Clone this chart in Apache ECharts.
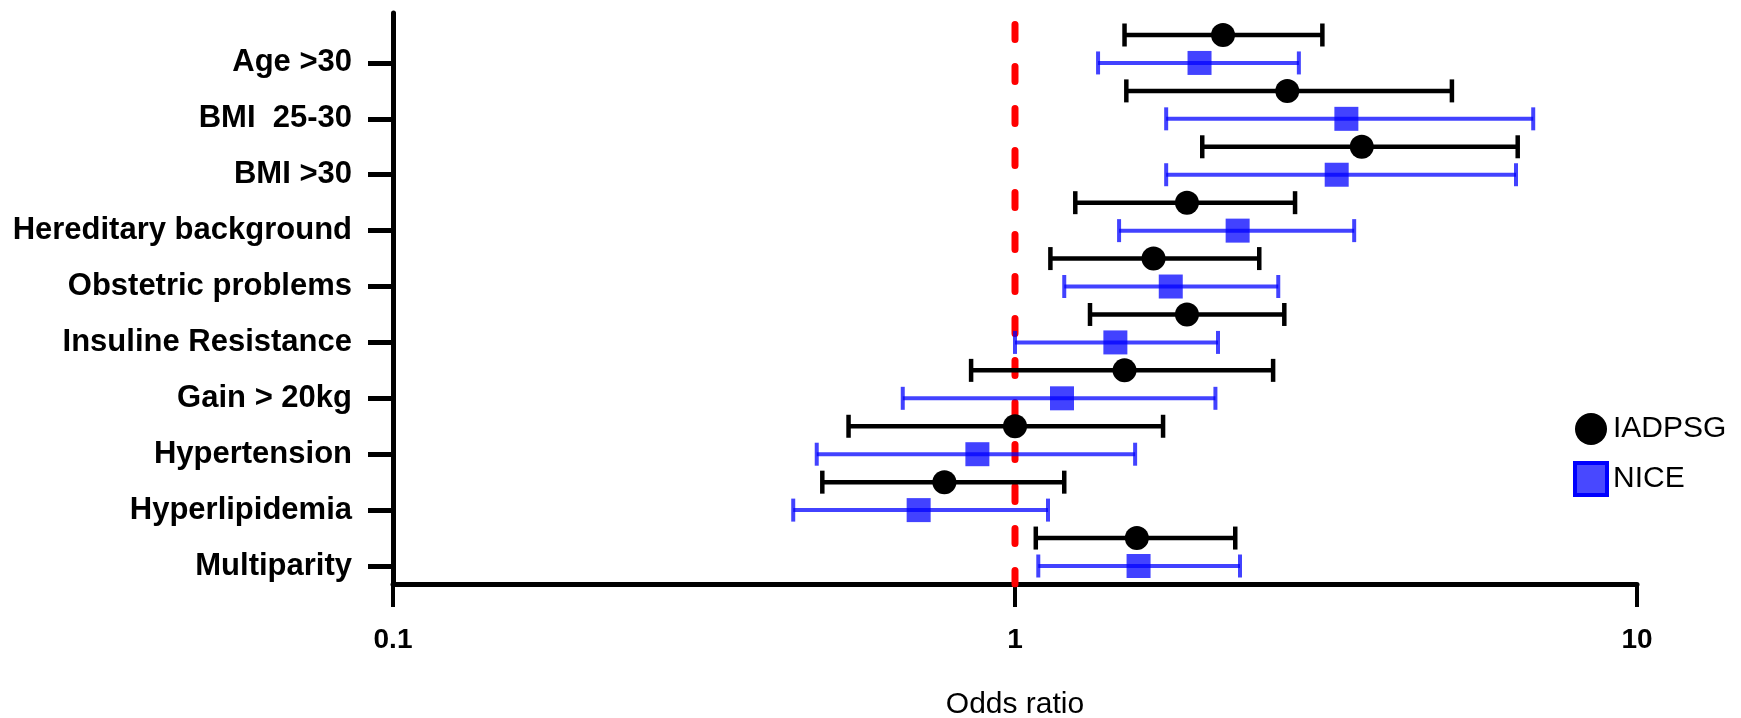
<!DOCTYPE html>
<html>
<head>
<meta charset="utf-8">
<script src="https://cdn.jsdelivr.net/npm/echarts@6/dist/echarts.min.js"></script>
<style>
html,body{margin:0;padding:0;background:#fff;}
#chart{width:1741px;height:718px;}
</style>
</head>
<body>
<div id="chart"></div>
<script>
var categories = ['Age >30','BMI  25-30','BMI >30','Hereditary background','Obstetric problems','Insuline Resistance','Gain > 20kg','Hypertension','Hyperlipidemia','Multiparity'];
var iadOR = [2.16, 2.74, 3.61, 1.89, 1.67, 1.89, 1.50, 1.00, 0.77, 1.57];
var iadLo = [1.50, 1.51, 2.00, 1.25, 1.14, 1.32, 0.85, 0.54, 0.49, 1.08];
var iadHi = [3.12, 5.04, 6.43, 2.82, 2.47, 2.71, 2.60, 1.73, 1.20, 2.26];
var niceOR = [1.98, 3.41, 3.29, 2.28, 1.78, 1.45, 1.19, 0.87, 0.70, 1.58];
var niceLo = [1.36, 1.75, 1.75, 1.47, 1.20, 1.00, 0.66, 0.48, 0.44, 1.09];
var niceHi = [2.86, 6.81, 6.39, 3.51, 2.65, 2.12, 2.10, 1.56, 1.13, 2.30];

var FONT = "'Liberation Sans', Arial, sans-serif";
var BLUE = 'rgba(0,0,255,0.74)';
var yMin = -0.787, yMax = 19.644;

var iadPts = [], nicePts = [], iadBars = [], niceBars = [], tickRows = [];
for (var i = 0; i < categories.length; i++) {
  iadPts.push([iadOR[i], 2 * i]);
  nicePts.push([niceOR[i], 2 * i + 1]);
  iadBars.push([iadLo[i], iadHi[i], 2 * i]);
  niceBars.push([niceLo[i], niceHi[i], 2 * i + 1]);
  tickRows.push(2 * i + 1);
}

function barRenderer(color, lw, capW) {
  return function (params, api) {
    var y = api.value(2);
    var p0 = api.coord([api.value(0), y]);
    var p1 = api.coord([api.value(1), y]);
    var h = 11.5;
    return {
      type: 'group',
      children: [
        {type: 'line', shape: {x1: p0[0], y1: p0[1], x2: p1[0], y2: p1[1]}, style: {stroke: color, lineWidth: lw}},
        {type: 'line', shape: {x1: p0[0], y1: p0[1] - h, x2: p0[0], y2: p0[1] + h}, style: {stroke: color, lineWidth: capW}},
        {type: 'line', shape: {x1: p1[0], y1: p1[1] - h, x2: p1[0], y2: p1[1] + h}, style: {stroke: color, lineWidth: capW}}
      ]
    };
  };
}

var chart = echarts.init(document.getElementById('chart'), null, {renderer: 'canvas'});
chart.setOption({
  animation: false,
  backgroundColor: '#fff',
  grid: {left: 393, right: 104, top: 13, bottom: 134, containLabel: false, outerBoundsMode: 'none'},
  legend: {
    orient: 'vertical',
    left: 1568,
    top: 408,
    itemWidth: 32,
    itemHeight: 32,
    itemGap: 16,
    textStyle: {fontFamily: FONT, fontSize: 30, color: '#000', padding: [0, 0, 0, 1]},
    data: [
      {name: 'IADPSG', icon: 'circle', itemStyle: {color: '#000'}},
      {name: 'NICE', icon: 'rect', itemStyle: {color: 'rgba(40,40,255,0.85)', borderColor: '#0000ff', borderWidth: 4}}
    ]
  },
  xAxis: {
    type: 'log',
    logBase: 10,
    min: 0.1,
    max: 10,
    name: 'Odds ratio',
    nameLocation: 'middle',
    nameGap: 106,
    nameTextStyle: {fontFamily: FONT, fontSize: 30, color: '#000'},
    axisLine: {onZero: false, lineStyle: {color: '#000', width: 5}},
    axisTick: {show: true, inside: false, length: 23, lineStyle: {color: '#000', width: 4}},
    minorTick: {show: false},
    splitLine: {show: false},
    axisLabel: {
      fontFamily: FONT, fontSize: 28, fontWeight: 'bold', color: '#000', margin: 42,
      formatter: function (v) { return String(+v.toPrecision(3)); }
    }
  },
  yAxis: {
    type: 'value',
    inverse: true,
    min: yMin,
    max: yMax,
    axisLine: {show: true, onZero: false, lineStyle: {color: '#000', width: 5}},
    axisTick: {show: true, inside: false, length: 25, customValues: tickRows, lineStyle: {color: '#000', width: 5}},
    splitLine: {show: false},
    axisLabel: {
      customValues: tickRows,
      fontFamily: FONT, fontSize: 31, fontWeight: 'bold', color: '#000', margin: 41,
      formatter: function (v) { return categories[Math.round((v - 1) / 2)]; }
    }
  },
  series: [
    {
      name: 'ref',
      type: 'line',
      data: [[1, yMin], [1, yMax]],
      symbol: 'none',
      silent: true,
      z: 1,
      lineStyle: {color: '#ff0000', width: 7, type: [15, 27], dashOffset: 30.5, cap: 'round'}
    },
    {
      name: 'IADPSG CI',
      type: 'custom',
      renderItem: barRenderer('#000', 4.5, 4.5),
      encode: {x: [0, 1], y: 2},
      data: iadBars,
      z: 2
    },
    {
      name: 'NICE CI',
      type: 'custom',
      renderItem: barRenderer(BLUE, 4, 4),
      encode: {x: [0, 1], y: 2},
      data: niceBars,
      z: 2
    },
    {
      name: 'IADPSG',
      type: 'scatter',
      symbol: 'circle',
      symbolSize: 24,
      itemStyle: {color: '#000', opacity: 1},
      data: iadPts,
      z: 3
    },
    {
      name: 'NICE',
      type: 'scatter',
      symbol: 'rect',
      symbolSize: 24,
      itemStyle: {color: BLUE, opacity: 1},
      data: nicePts,
      z: 3
    }
  ]
});
</script>
</body>
</html>
